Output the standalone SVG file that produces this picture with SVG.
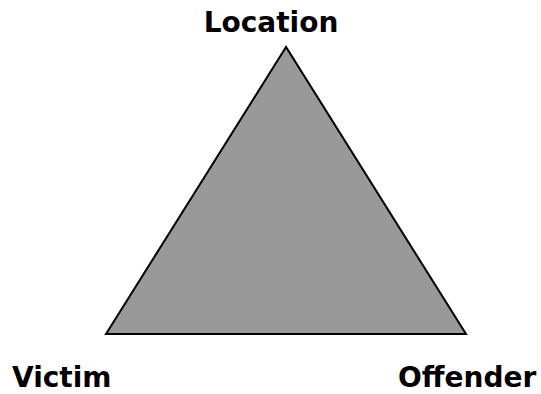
<svg xmlns="http://www.w3.org/2000/svg" width="541" height="394" viewBox="0 0 541 394">
<style>
.lbl{font-family:"DejaVu Sans",Verdana,sans-serif;font-weight:bold;font-size:28px;fill:#000}
</style>
<rect width="541" height="394" fill="#fff"/>
<g id="triangle">
<polygon points="286,47 106,334 466,334" fill="#999999" stroke="#000" stroke-width="2" stroke-linejoin="miter"/>
</g>
<g id="connectors"></g>
<g id="location"><text class="lbl" x="271" y="32" text-anchor="middle">Location</text></g>
<g id="victim"><text class="lbl" x="12" y="387">Victim</text></g>
<g id="offender"><text class="lbl" x="398" y="387">Offender</text></g>
</svg>
